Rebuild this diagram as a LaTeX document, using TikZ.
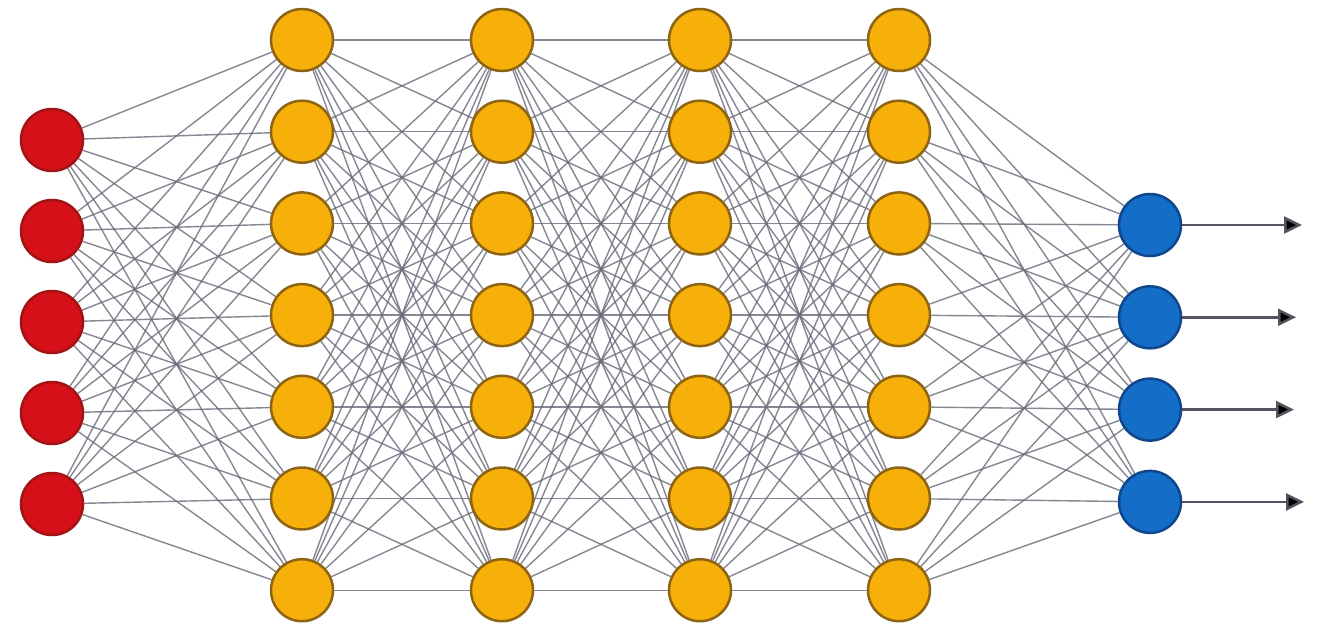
\documentclass[tikz,border=0pt]{standalone}
\usetikzlibrary{arrows.meta}
\definecolor{inred}{RGB}{214,16,24}
\definecolor{inredb}{RGB}{160,20,20}
\definecolor{hidy}{RGB}{247,176,10}
\definecolor{hidyb}{RGB}{140,100,20}
\definecolor{outb}{RGB}{20,110,200}
\definecolor{outbb}{RGB}{15,70,140}
\definecolor{edgec}{RGB}{105,105,120}
\tikzset{
  neuron/.style={circle, minimum size=62pt, inner sep=0pt, line width=2.5pt},
  inneuron/.style={neuron, fill=inred, draw=inredb},
  hidneuron/.style={neuron, fill=hidy, draw=hidyb},
  outneuron/.style={neuron, fill=outb, draw=outbb},
  link/.style={draw=edgec, line width=1.4pt, opacity=0.8},
  outarrow/.style={draw=edgec!80!black, line width=2.5pt, -{Triangle[length=18pt,width=17pt,fill=black]}}
}
\begin{document}
\begin{tikzpicture}[x=1pt,y=-1pt]
\useasboundingbox (0,0) rectangle (1317,630);
\fill[white] (0,0) rectangle (1317,630);
% coordinates of neurons
\foreach \i in {1,...,5} {
  \coordinate (pi\i) at (52,{140+(\i-1)*91});
}
\foreach \l/\x in {1/302,2/502,3/700,4/899} {
  \foreach \j in {1,...,7} {
    \coordinate (ph\l\j) at (\x,{40+(\j-1)*91.7});
  }
}
\foreach \k in {1,...,4} {
  \coordinate (po\k) at (1150,{225+(\k-1)*92.3});
}
% invisible named nodes for anchors
\foreach \i in {1,...,5} { \node[neuron] (i\i) at (pi\i) {}; }
\foreach \l in {1,...,4} { \foreach \j in {1,...,7} { \node[neuron] (h\l\j) at (ph\l\j) {}; } }
\foreach \k in {1,...,4} { \node[neuron] (o\k) at (po\k) {}; }
% edges
\foreach \i in {1,...,5} { \foreach \j in {1,...,7} { \draw[link] (i\i) -- (h1\j); } }
\foreach \l/\m in {1/2,2/3,3/4} {
  \foreach \j in {1,...,7} { \foreach \jj in {1,...,7} { \draw[link] (h\l\j) -- (h\m\jj); } }
}
\foreach \j in {1,...,7} { \foreach \k in {1,...,4} { \draw[link] (h4\j) -- (o\k); } }
% output arrows
\foreach \k/\e in {1/1302,2/1296,3/1294,4/1304} {
  \coordinate (a\k) at (\e,{225+(\k-1)*92.3});
  \draw[outarrow] (o\k) -- (a\k);
}
% visible neurons
\foreach \i in {1,...,5} { \node[inneuron] at (i\i) {}; }
\foreach \l in {1,...,4} { \foreach \j in {1,...,7} { \node[hidneuron] at (h\l\j) {}; } }
\foreach \k in {1,...,4} { \node[outneuron] at (o\k) {}; }
\end{tikzpicture}
\end{document}
